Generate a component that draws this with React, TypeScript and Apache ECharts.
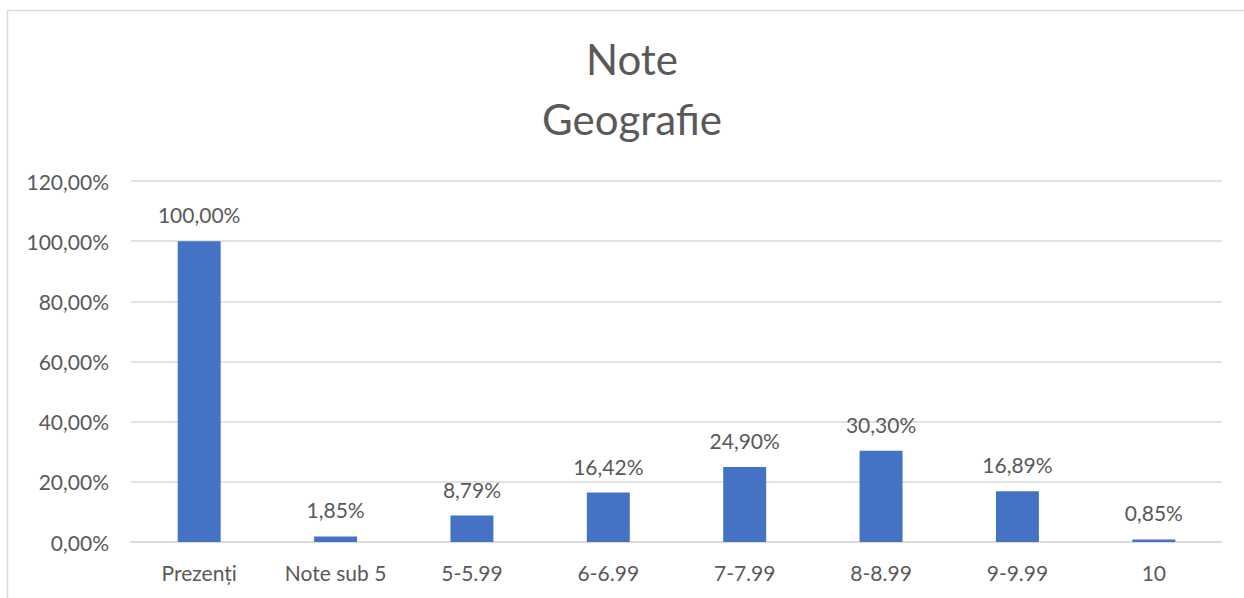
import React, { useEffect, useRef } from "react";
import * as echarts from "echarts";

const categories = ["Prezenți", "Note sub 5", "5-5.99", "6-6.99", "7-7.99", "8-8.99", "9-9.99", "10"];
const values = [100.0, 1.85, 8.79, 16.42, 24.9, 30.3, 16.89, 0.85];
const yTicks = [0, 20, 40, 60, 80, 100, 120];
const titleText = "Note\nGeografie";

const FONT = "Lato, 'Open Sans', sans-serif";
const TEXT = "#595959";

const fmt = (v: number) => v.toFixed(2).replace(".", ",") + "%";

export default function App() {
  const ref = useRef<HTMLDivElement>(null);
  useEffect(() => {
    document.body.style.margin = "0";
    const chart = echarts.init(ref.current!, undefined, { renderer: "svg" });
    chart.setOption({
      animation: false,
      backgroundColor: "#ffffff",
      textStyle: { fontFamily: FONT },
      graphic: [
        {
          type: "rect",
          shape: { x: 7.5, y: 10.5, width: 1300, height: 700 },
          style: { fill: "none", stroke: "#d9d9d9", lineWidth: 1.5 },
          silent: true,
        },
        {
          type: "text",
          x: 632,
          y: 29,
          silent: true,
          style: {
            text: titleText,
            fill: TEXT,
            fontFamily: FONT,
            fontSize: 42,
            lineHeight: 60,
            align: "center",
            verticalAlign: "top",
          },
        },
      ],
      grid: { left: 131, right: 22, top: 181, bottom: 56, containLabel: false },
      xAxis: {
        type: "category",
        data: categories,
        axisLine: { lineStyle: { color: "#d9d9d9", width: 1.5 } },
        axisTick: { show: false },
        axisLabel: { color: TEXT, fontSize: 21, fontFamily: FONT, margin: 20, interval: 0 },
      },
      yAxis: {
        type: "value",
        min: yTicks[0],
        max: yTicks[yTicks.length - 1],
        interval: 20,
        axisLine: { show: false },
        axisTick: { show: false },
        splitLine: { lineStyle: { color: "#d9d9d9", width: 1.5 } },
        axisLabel: { color: TEXT, fontSize: 21, fontFamily: FONT, margin: 22, formatter: (v: number) => fmt(v) },
      },
      series: [
        {
          type: "bar",
          data: values,
          barWidth: "31.5%",
          itemStyle: { color: "#4472C4" },
          label: {
            show: true,
            position: "top",
            distance: 16,
            color: TEXT,
            fontSize: 21,
            fontFamily: FONT,
            formatter: (p: any) => fmt(p.value),
          },
        },
      ],
    });
    return () => chart.dispose();
  }, []);
  return <div ref={ref} style={{ width: 1244, height: 598 }} />;
}
